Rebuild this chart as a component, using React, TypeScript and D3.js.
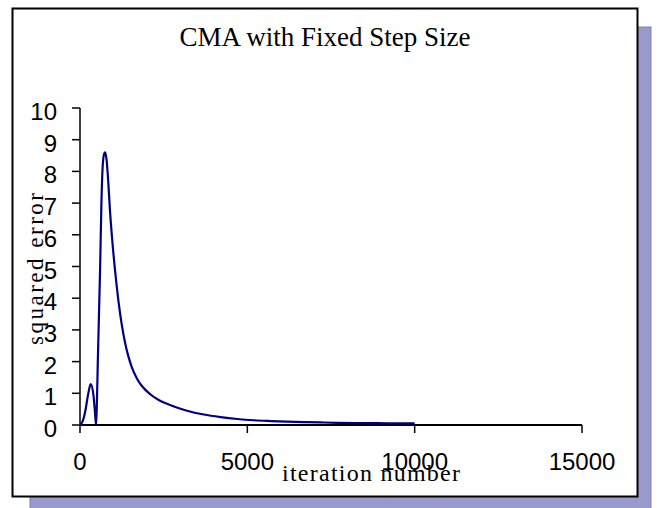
import React, { useRef, useEffect } from "react";
import * as d3 from "d3";

// iteration number vs squared error
const iterations = [0, 80, 160, 240, 320, 400, 440, 480, 500, 530, 560, 600, 640, 680, 720, 750, 790, 830, 900, 970, 1050, 1150, 1250, 1350, 1450, 1550, 1700, 1850, 2100, 2350, 2600, 2850, 3200, 3700, 4200, 4700, 5200, 5700, 6200, 6700, 7200, 7700, 8500, 9200, 10000];
const squaredError = [0, 0.12, 0.45, 0.95, 1.29, 0.95, 0.5, 0, 0.5, 1.9, 3.2, 4.9, 7.0, 8.2, 8.55, 8.6, 8.4, 7.9, 6.7, 5.75, 4.85, 3.9, 3.15, 2.58, 2.15, 1.82, 1.47, 1.23, 0.97, 0.79, 0.67, 0.57, 0.45, 0.33, 0.25, 0.19, 0.15, 0.125, 0.105, 0.09, 0.08, 0.07, 0.06, 0.055, 0.05];
const xTicks = [0, 5000, 10000, 15000];
const yTicks = [0, 1, 2, 3, 4, 5, 6, 7, 8, 9, 10];

const W = 657;
const H = 508;

function App() {
  const svgRef = useRef<SVGSVGElement>(null);

  useEffect(() => {
    const svg = d3.select(svgRef.current);
    svg.selectAll("*").remove();

    // shadow + frame
    svg.append("rect").attr("x", 30).attr("y", 27).attr("width", 621).attr("height", 490)
      .attr("fill", "#9999cc").attr("stroke", "#8080bb").attr("stroke-width", 1);
    svg.append("rect").attr("x", 12.5).attr("y", 8.5).attr("width", 625).attr("height", 488)
      .attr("fill", "#fff").attr("stroke", "#000").attr("stroke-width", 2);

    const x = d3.scaleLinear().domain([0, 15000]).range([80, 582]);
    const y = d3.scaleLinear().domain([0, 10]).range([425, 108]);

    const g = svg.append("g");

    // axes
    g.append("line").attr("x1", x(0)).attr("x2", x(15000)).attr("y1", y(0)).attr("y2", y(0))
      .attr("stroke", "#000").attr("stroke-width", 2);
    g.append("line").attr("x1", x(0)).attr("x2", x(0)).attr("y1", y(0)).attr("y2", y(10))
      .attr("stroke", "#000").attr("stroke-width", 1.5);

    g.selectAll(".xt").data(xTicks).join("line").attr("class", "xt")
      .attr("x1", d => x(d)).attr("x2", d => x(d)).attr("y1", y(0)).attr("y2", y(0) + 8)
      .attr("stroke", "#000").attr("stroke-width", 1.5);
    g.selectAll(".yt").data(yTicks).join("line").attr("class", "yt")
      .attr("x1", x(0) - 8).attr("x2", x(0)).attr("y1", d => y(d)).attr("y2", d => y(d))
      .attr("stroke", "#000").attr("stroke-width", 1.5);

    const sans = "'Liberation Sans', Arial, sans-serif";
    const serif = "'Liberation Serif', 'Times New Roman', serif";

    g.selectAll(".xl").data(xTicks).join("text").attr("class", "xl")
      .attr("x", d => x(d)).attr("y", 470).attr("text-anchor", "middle")
      .attr("font-family", sans).attr("font-size", 24).text(d => d);
    g.selectAll(".yl").data(yTicks).join("text").attr("class", "yl")
      .attr("x", 57).attr("y", d => y(d) + 12).attr("text-anchor", "end")
      .attr("font-family", sans).attr("font-size", 24).text(d => d);

    // the curve
    const line = d3.line<number>()
      .x((d, i) => x(iterations[i]))
      .y(d => y(d))
      .curve(d3.curveMonotoneX);
    g.append("path").datum(squaredError).attr("d", line)
      .attr("fill", "none").attr("stroke", "#000080").attr("stroke-width", 2.2);

    // titles
    svg.append("text").attr("x", 325).attr("y", 46).attr("text-anchor", "middle")
      .attr("font-family", serif).attr("font-size", 27).text("CMA with Fixed Step Size");
    svg.append("text").attr("x", 282).attr("y", 481)
      .attr("font-family", serif).attr("font-size", 24)
      .attr("textLength", 178).attr("lengthAdjust", "spacing").text("iteration number");
    svg.append("text").attr("transform", "translate(43,345) rotate(-90)")
      .attr("font-family", serif).attr("font-size", 23)
      .attr("textLength", 152).attr("lengthAdjust", "spacing").text("squared error");
  }, []);

  return (
    <div style={{ position: "absolute", left: 0, top: 0 }}>
      <svg ref={svgRef} width={W} height={H}></svg>
    </div>
  );
}

export default App;
